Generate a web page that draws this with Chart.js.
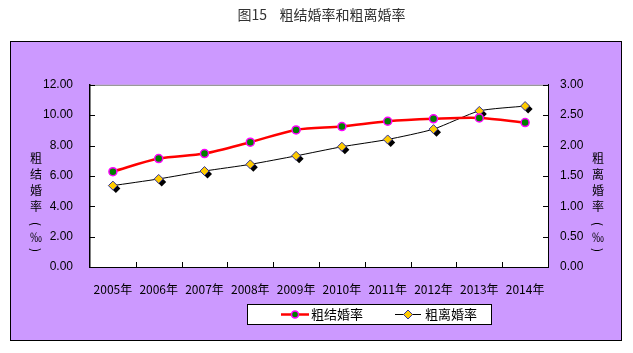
<!DOCTYPE html>
<html>
<head>
<meta charset="utf-8">
<script src="https://cdn.jsdelivr.net/npm/chart.js@4/dist/chart.umd.min.js"></script>
<style>
    html, body { margin: 0; padding: 0; background: #fff; }
    #wrap { width: 633px; height: 353px; }
</style>
</head>
<body>
<div id="wrap"><canvas id="chart" width="633" height="353"></canvas></div>
<script>
const years = ["2005年", "2006年", "2007年", "2008年", "2009年", "2010年", "2011年", "2012年", "2013年", "2014年"];
const marriageRate = [6.28, 7.14, 7.47, 8.22, 9.03, 9.25, 9.60, 9.76, 9.82, 9.51];
const divorceRate = [1.34, 1.45, 1.58, 1.69, 1.83, 1.98, 2.10, 2.27, 2.57, 2.65];
const leftTitle = ["粗", "结", "婚", "率", "(", "‰", ")"];
const rightTitle = ["粗", "离", "婚", "率", "(", "‰", ")"];

const cjk = '"Noto Sans CJK SC", "Liberation Sans", sans-serif';
const latin = '"Liberation Sans", Arial, sans-serif';

function drawVertical(ctx, chars, cx) {
    const steps = [158, 174, 190, 206, 224, 237, 250];
    chars.forEach((c, i) => {
        if (c === "(" || c === ")") {
            ctx.save();
            ctx.translate(cx, steps[i]);
            ctx.rotate(Math.PI / 2);
            ctx.fillText(c, 0, 0);
            ctx.restore();
        } else {
            ctx.fillText(c, cx, steps[i]);
        }
    });
}

// purple frame, white plot area, inward tick marks, axis titles, legend
const decor = {
    id: "decor",
    beforeDraw(chart) {
        const ctx = chart.ctx;
        const a = chart.chartArea;
        ctx.save();
        ctx.fillStyle = "#fff";
        ctx.fillRect(0, 0, chart.width, chart.height);
        ctx.fillStyle = "#CC99FF";
        ctx.fillRect(10.5, 41.5, 611, 299);
        ctx.strokeStyle = "#000";
        ctx.lineWidth = 1;
        ctx.strokeRect(10.5, 41.5, 611, 299);
        ctx.fillStyle = "#fff";
        ctx.fillRect(a.left, a.top, a.right - a.left, a.bottom - a.top);
        ctx.strokeStyle = "#808080";
        ctx.beginPath();
        ctx.moveTo(a.left, a.top + 0.5);
        ctx.lineTo(a.right, a.top + 0.5);
        ctx.stroke();
        ctx.restore();
    },
    afterDraw(chart) {
        const ctx = chart.ctx;
        const a = chart.chartArea;
        const yl = chart.scales.y, yr = chart.scales.y1, x = chart.scales.x;
        ctx.save();
        ctx.strokeStyle = "#000";
        ctx.lineWidth = 1;
        ctx.beginPath();
        yl.ticks.forEach(t => {
            const py = Math.round(yl.getPixelForValue(t.value)) + 0.5;
            ctx.moveTo(a.left, py); ctx.lineTo(a.left + 5, py);
        });
        yr.ticks.forEach(t => {
            const py = Math.round(yr.getPixelForValue(t.value)) + 0.5;
            ctx.moveTo(a.right, py); ctx.lineTo(a.right - 5, py);
        });
        for (let i = 1; i < years.length; i++) {
            const px = Math.round((x.getPixelForValue(i - 1) + x.getPixelForValue(i)) / 2) + 0.5;
            ctx.moveTo(px, a.bottom); ctx.lineTo(px, a.bottom - 5);
        }
        ctx.stroke();

        // vertical axis titles
        ctx.fillStyle = "#000";
        ctx.font = "12px " + cjk;
        ctx.textAlign = "center";
        ctx.textBaseline = "middle";
        drawVertical(ctx, leftTitle, 36);
        drawVertical(ctx, rightTitle, 598);

        // legend
        ctx.fillStyle = "#fff";
        ctx.fillRect(247.5, 304.5, 244, 20);
        ctx.strokeStyle = "#000";
        ctx.strokeRect(247.5, 304.5, 244, 20);
        const ly = 314.5;
        ctx.strokeStyle = "#FF0000";
        ctx.lineWidth = 2.5;
        ctx.beginPath(); ctx.moveTo(281, ly); ctx.lineTo(309, ly); ctx.stroke();
        ctx.fillStyle = "#008000";
        ctx.strokeStyle = "#FF00FF";
        ctx.lineWidth = 1.5;
        ctx.beginPath(); ctx.arc(295, ly, 3.5, 0, Math.PI * 2); ctx.fill(); ctx.stroke();
        ctx.strokeStyle = "#000";
        ctx.lineWidth = 1;
        ctx.beginPath(); ctx.moveTo(395, ly); ctx.lineTo(421, ly); ctx.stroke();
        ctx.fillStyle = "#FFCC00";
        ctx.strokeStyle = "#333399";
        ctx.beginPath();
        ctx.moveTo(408, ly - 4.5); ctx.lineTo(412.5, ly); ctx.lineTo(408, ly + 4.5); ctx.lineTo(403.5, ly);
        ctx.closePath(); ctx.fill(); ctx.stroke();
        ctx.fillStyle = "#000";
        ctx.font = "13px " + cjk;
        ctx.textAlign = "left";
        ctx.fillText(chart.data.datasets[0].label, 311, ly);
        ctx.fillText(chart.data.datasets[1].label, 425, ly);
        ctx.restore();
    },
    // black shadow behind the divorce-rate diamonds
    beforeDatasetDraw(chart, args) {
        if (args.index !== 1) return;
        const ctx = chart.ctx;
        ctx.save();
        ctx.fillStyle = "#000";
        args.meta.data.forEach(p => {
            const cx = p.x + 3, cy = p.y + 3;
            ctx.beginPath();
            ctx.moveTo(cx, cy - 4.5); ctx.lineTo(cx + 4.5, cy); ctx.lineTo(cx, cy + 4.5); ctx.lineTo(cx - 4.5, cy);
            ctx.closePath(); ctx.fill();
        });
        ctx.restore();
    }
};

new Chart(document.getElementById("chart"), {
    type: "line",
    data: {
        labels: years,
        datasets: [{
            label: "粗结婚率",
            data: marriageRate,
            yAxisID: "y",
            borderColor: "#FF0000",
            borderWidth: 2.5,
            tension: 0.3,
            pointStyle: "circle",
            pointRadius: 4,
            pointBackgroundColor: "#008000",
            pointBorderColor: "#FF00FF",
            pointBorderWidth: 1.5
        }, {
            label: "粗离婚率",
            data: divorceRate,
            yAxisID: "y1",
            borderColor: "#000",
            borderWidth: 1,
            tension: 0.2,
            pointStyle: "rectRot",
            pointRadius: 4.5,
            pointBackgroundColor: "#FFCC00",
            pointBorderColor: "#333399",
            pointBorderWidth: 1
        }]
    },
    options: {
        responsive: false,
        animation: false,
        events: [],
        layout: { padding: { left: 10, right: 0, top: 0, bottom: 0 } },
        plugins: {
            legend: { display: false },
            tooltip: { enabled: false },
            title: {
                display: true,
                text: "图15    粗结婚率和粗离婚率",
                color: "#333",
                font: { family: cjk, size: 14, weight: "normal" },
                padding: { top: 6, bottom: 62 }
            }
        },
        scales: {
            x: {
                offset: true,
                grid: { display: false, drawTicks: false },
                border: { display: true, color: "#000", width: 1 },
                ticks: { color: "#000", padding: 15, font: { family: cjk, size: 12 }, maxRotation: 0, autoSkip: false },
                afterFit: s => { s.height = 86; }
            },
            y: {
                position: "left",
                min: 0, max: 12,
                grid: { display: false, drawTicks: false },
                border: { display: true, color: "#000", width: 1.5 },
                ticks: { stepSize: 2, color: "#000", padding: 17, font: { family: latin, size: 12 }, callback: v => v.toFixed(2) },
                afterFit: s => { s.width = 80; }
            },
            y1: {
                position: "right",
                min: 0, max: 3,
                grid: { display: false, drawTicks: false },
                border: { display: true, color: "#000", width: 1 },
                ticks: { stepSize: 0.5, color: "#000", padding: 12, font: { family: latin, size: 12 }, callback: v => v.toFixed(2) },
                afterFit: s => { s.width = 85; }
            }
        }
    },
    plugins: [decor]
});
</script>
</body>
</html>
